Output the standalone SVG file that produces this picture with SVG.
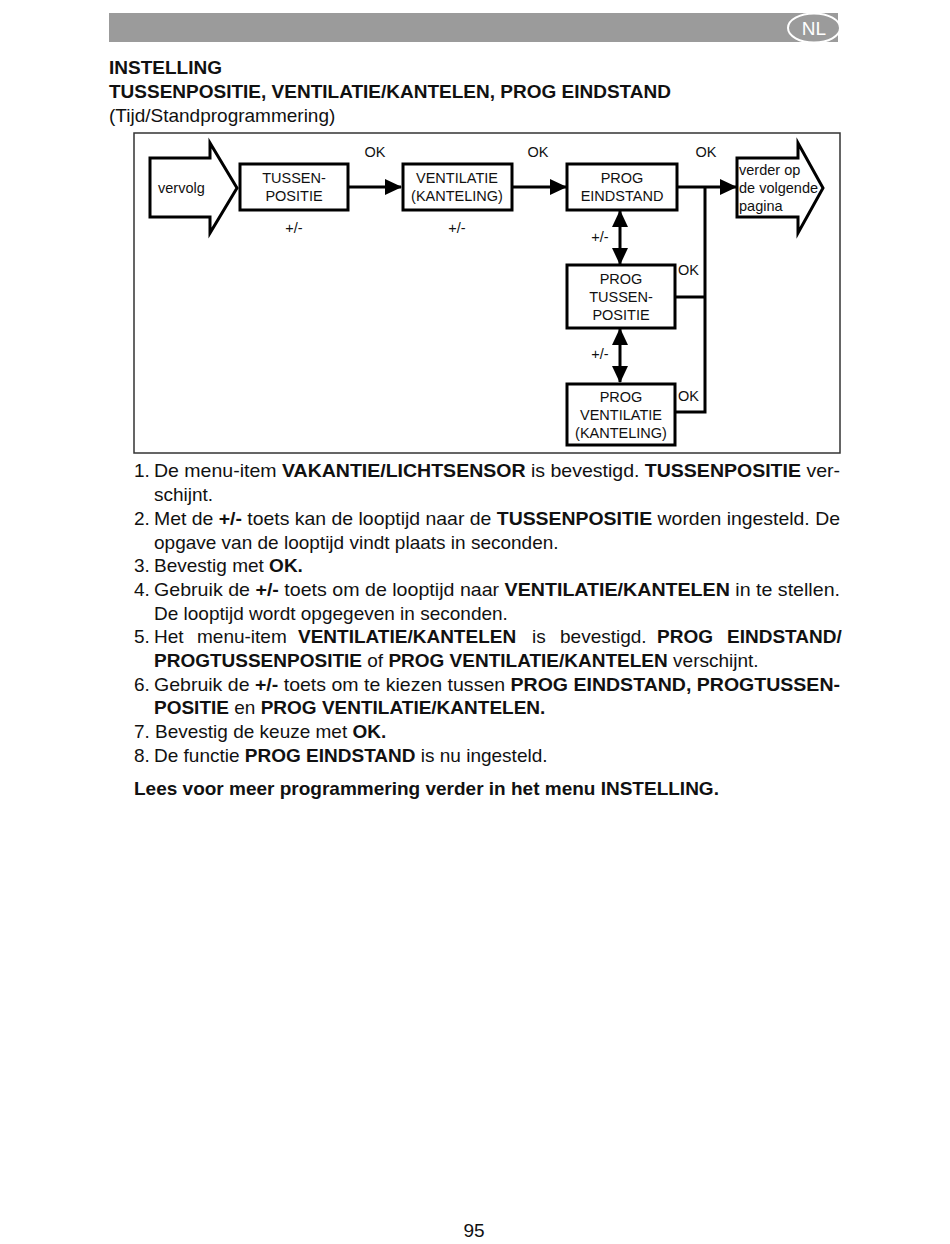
<svg xmlns="http://www.w3.org/2000/svg" width="950" height="1244" viewBox="0 0 950 1244">
<defs>
<marker id="ah" markerUnits="userSpaceOnUse" markerWidth="18" markerHeight="16" refX="16" refY="8" orient="auto-start-reverse">
<path d="M0,0 L17,8 L0,16 Z" fill="#000"/>
</marker>
<style>
text{font-family:"Liberation Sans",Arial,sans-serif;fill:#111}
.d{font-size:14.5px;text-anchor:middle}
.dl{font-size:14.5px}
.b{font-weight:bold}
.t{font-size:19px}
.box{fill:#fff;stroke:#000;stroke-width:3}
.big{fill:#fff;stroke:#000;stroke-width:3;stroke-linejoin:miter}
.con{fill:none;stroke:#000;stroke-width:3}
</style>
</defs>
<rect width="950" height="1244" fill="#fff"/>
<g id="header">
<rect x="109" y="13" width="729" height="29" fill="#9b9b9b"/>
<ellipse cx="814" cy="28" rx="26" ry="14.5" fill="#9b9b9b" stroke="#fff" stroke-width="2"/>
<text x="814" y="35" font-size="19" text-anchor="middle" style="fill:#fff">NL</text>
</g>
<g id="title">
<text x="109" y="74" class="t b">INSTELLING</text>
<text x="109" y="98" class="t b">TUSSENPOSITIE, VENTILATIE/KANTELEN, PROG EINDSTAND</text>
<text x="109" y="122" class="t">(Tijd/Standprogrammering)</text>
</g>
<rect id="frame" x="134" y="133" width="706" height="320" fill="none" stroke="#333" stroke-width="1.5"/>
<g id="connectors">
<line x1="348" y1="187" x2="401" y2="187" class="con" marker-end="url(#ah)"/>
<line x1="512" y1="187" x2="566" y2="187" class="con" marker-end="url(#ah)"/>
<line x1="677" y1="187" x2="736" y2="187" class="con" marker-end="url(#ah)"/>
<polyline points="675,297 705,297" class="con"/>
<polyline points="675,412 705,412 705,186" class="con"/>
<line x1="620" y1="211" x2="620" y2="264" class="con" marker-start="url(#ah)" marker-end="url(#ah)"/>
<line x1="620" y1="329" x2="620" y2="382" class="con" marker-start="url(#ah)" marker-end="url(#ah)"/>
<text x="375" y="157" class="d">OK</text>
<text x="538" y="157" class="d">OK</text>
<text x="706" y="157" class="d">OK</text>
<text x="294" y="233" class="d">+/-</text>
<text x="457" y="233" class="d">+/-</text>
<text x="600" y="242" class="d">+/-</text>
<text x="600" y="359" class="d">+/-</text>
<text x="678" y="275" class="dl">OK</text>
<text x="678" y="401" class="dl">OK</text>
</g>
<g id="vervolg">
<polygon points="150,158 210,158 210,143 237,188 210,233 210,217 150,217" class="big"/>
<text x="158" y="193" class="dl">vervolg</text>
</g>
<g id="tussenpositie">
<rect x="240" y="164" width="108" height="46" class="box"/>
<text x="294" y="183" class="d">TUSSEN-</text>
<text x="294" y="201" class="d">POSITIE</text>
</g>
<g id="ventilatie">
<rect x="403" y="164" width="109" height="46" class="box"/>
<text x="457" y="183" class="d">VENTILATIE</text>
<text x="457" y="201" class="d">(KANTELING)</text>
</g>
<g id="prog-eindstand">
<rect x="567" y="164" width="110" height="46" class="box"/>
<text x="622" y="183" class="d">PROG</text>
<text x="622" y="201" class="d">EINDSTAND</text>
</g>
<g id="verder">
<polygon points="737,158 798,158 798,143 823,188 798,233 798,217 737,217" class="big"/>
<text x="739" y="175" class="dl">verder op</text>
<text x="739" y="193" class="dl">de volgende</text>
<text x="739" y="211" class="dl">pagina</text>
</g>
<g id="prog-tussenpositie">
<rect x="567" y="265" width="108" height="63" class="box"/>
<text x="621" y="284" class="d">PROG</text>
<text x="621" y="302" class="d">TUSSEN-</text>
<text x="621" y="320" class="d">POSITIE</text>
</g>
<g id="prog-ventilatie">
<rect x="567" y="384" width="108" height="61" class="box"/>
<text x="621" y="402" class="d">PROG</text>
<text x="621" y="420" class="d">VENTILATIE</text>
<text x="621" y="438" class="d">(KANTELING)</text>
</g>
<g id="body">
<text x="134" y="477" class="t">1.</text>
<text x="154" y="477" class="t" textLength="686" lengthAdjust="spacingAndGlyphs">De menu-item <tspan class="b">VAKANTIE/LICHTSENSOR</tspan> is bevestigd. <tspan class="b">TUSSENPOSITIE</tspan> ver-</text>
<text x="154" y="501" class="t">schijnt.</text>
<text x="134" y="525" class="t">2.</text>
<text x="154" y="525" class="t" textLength="686" lengthAdjust="spacingAndGlyphs">Met de <tspan class="b">+/-</tspan> toets kan de looptijd naar de <tspan class="b">TUSSENPOSITIE</tspan> worden ingesteld. De</text>
<text x="154" y="549" class="t">opgave van de looptijd vindt plaats in seconden.</text>
<text x="134" y="572" class="t">3.</text>
<text x="154" y="572" class="t">Bevestig met <tspan class="b">OK.</tspan></text>
<text x="134" y="596" class="t">4.</text>
<text x="154" y="596" class="t" textLength="686" lengthAdjust="spacingAndGlyphs">Gebruik de <tspan class="b">+/-</tspan> toets om de looptijd naar <tspan class="b">VENTILATIE/KANTELEN</tspan> in te stellen.</text>
<text x="154" y="620" class="t">De looptijd wordt opgegeven in seconden.</text>
<text x="134" y="643" class="t">5.</text>
<text y="643" class="t"><tspan x="154">Het</tspan><tspan x="197">menu-item</tspan><tspan x="298" class="b">VENTILATIE/KANTELEN</tspan><tspan x="532">is</tspan><tspan x="560">bevestigd.</tspan><tspan x="657" class="b">PROG</tspan><tspan x="727" class="b">EINDSTAND/</tspan></text>
<text x="154" y="667" class="t"><tspan class="b">PROGTUSSENPOSITIE</tspan> of <tspan class="b">PROG VENTILATIE/KANTELEN</tspan> verschijnt.</text>
<text x="134" y="691" class="t">6.</text>
<text x="154" y="691" class="t" textLength="686" lengthAdjust="spacingAndGlyphs">Gebruik de <tspan class="b">+/-</tspan> toets om te kiezen tussen <tspan class="b">PROG EINDSTAND, PROGTUSSEN-</tspan></text>
<text x="154" y="714" class="t"><tspan class="b">POSITIE</tspan> en <tspan class="b">PROG VENTILATIE/KANTELEN.</tspan></text>
<text x="134" y="738" class="t">7.</text>
<text x="155" y="738" class="t">Bevestig de keuze met <tspan class="b">OK.</tspan></text>
<text x="134" y="762" class="t">8.</text>
<text x="154" y="762" class="t">De functie <tspan class="b">PROG EINDSTAND</tspan> is nu ingesteld.</text>
<text x="134" y="795" class="t b">Lees voor meer programmering verder in het menu INSTELLING.</text>
</g>
<text id="page" x="474" y="1237" font-size="19" text-anchor="middle">95</text>
</svg>
